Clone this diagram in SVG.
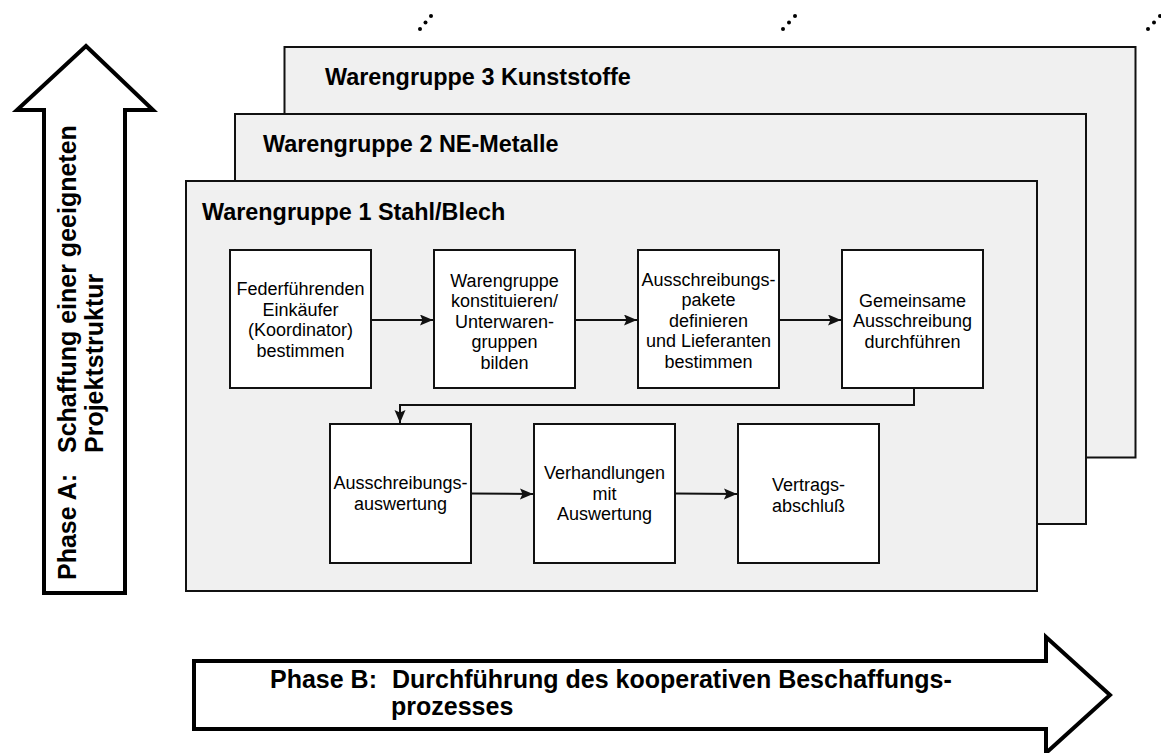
<svg xmlns="http://www.w3.org/2000/svg" width="1161" height="753" viewBox="0 0 1161 753">
  <style>
    .frame { fill: #f0f0f0; stroke: #111; stroke-width: 2; }
    .box { fill: #ffffff; stroke: #111; stroke-width: 2; }
    .phase { fill: #ffffff; stroke: #000; stroke-width: 4; stroke-linejoin: miter; stroke-miterlimit: 10; }
    .title { font-family: "Liberation Sans", Arial, sans-serif; font-weight: bold; font-size: 23.4px; fill: #000; }
    .phase-text { font-family: "Liberation Sans", Arial, sans-serif; font-weight: bold; font-size: 25px; fill: #000; }
    .label { font-family: "Liberation Sans", Arial, sans-serif; font-size: 18px; fill: #000; text-anchor: middle; }
    .conn { fill: none; stroke: #111; stroke-width: 2; }
    .dot { fill: #000; }
  </style>
  <defs>
    <marker id="arrow" markerUnits="userSpaceOnUse" markerWidth="14" markerHeight="12" refX="13" refY="5.5" orient="auto">
      <path d="M0,0 L13,5.5 L0,11 L2.5,5.5 z" fill="#111"/>
    </marker>
  </defs>

  <!-- continuation marks above the stacked frames -->
  <g id="continuation-dots">
    <circle class="dot" cx="420" cy="29" r="2"/>
    <circle class="dot" cx="425.5" cy="22.5" r="2"/>
    <circle class="dot" cx="431" cy="16" r="2"/>
    <circle class="dot" cx="783" cy="29" r="2"/>
    <circle class="dot" cx="789" cy="22.5" r="2"/>
    <circle class="dot" cx="795" cy="16" r="2"/>
    <circle class="dot" cx="1148" cy="29" r="2"/>
    <circle class="dot" cx="1154" cy="22.5" r="2"/>
    <circle class="dot" cx="1160" cy="16" r="2"/>
  </g>

  <!-- Phase A: vertical arrow -->
  <g id="phase-a">
    <polygon class="phase" points="86,46 153,110 125,110 125,593 44,593 44,110 17,110"/>
    <text class="phase-text" transform="translate(76,580) rotate(-90)">Phase A:</text>
    <text class="phase-text" transform="translate(76,453) rotate(-90)">Schaffung einer geeigneten</text>
    <text class="phase-text" transform="translate(103,453) rotate(-90)">Projektstruktur</text>
  </g>

  <!-- stacked commodity group frames -->
  <g id="group-3">
    <rect class="frame" x="284.5" y="47" width="851" height="410.5"/>
    <text class="title" x="325" y="85">Warengruppe 3 Kunststoffe</text>
  </g>
  <g id="group-2">
    <rect class="frame" x="235" y="114" width="851" height="410"/>
    <text class="title" x="263" y="152">Warengruppe 2 NE-Metalle</text>
  </g>
  <g id="group-1">
    <rect class="frame" x="186" y="181" width="851" height="410"/>
    <text class="title" x="202" y="220">Warengruppe 1 Stahl/Blech</text>
  </g>

  <!-- process steps -->
  <g id="step-koordinator">
    <rect class="box" x="230" y="250" width="141" height="138"/>
    <text class="label" x="300.5" y="295">Federführenden</text>
    <text class="label" x="300.5" y="315.5">Einkäufer</text>
    <text class="label" x="300.5" y="336">(Koordinator)</text>
    <text class="label" x="300.5" y="356.5">bestimmen</text>
  </g>
  <g id="step-warengruppe">
    <rect class="box" x="434" y="250" width="141" height="138"/>
    <text class="label" x="504.5" y="286.5">Warengruppe</text>
    <text class="label" x="504.5" y="307">konstituieren/</text>
    <text class="label" x="504.5" y="327.5">Unterwaren-</text>
    <text class="label" x="504.5" y="348">gruppen</text>
    <text class="label" x="504.5" y="368.5">bilden</text>
  </g>
  <g id="step-pakete">
    <rect class="box" x="638" y="250" width="141" height="138"/>
    <text class="label" x="708.5" y="285.5">Ausschreibungs-</text>
    <text class="label" x="708.5" y="306">pakete</text>
    <text class="label" x="708.5" y="326.5">definieren</text>
    <text class="label" x="708.5" y="347">und Lieferanten</text>
    <text class="label" x="708.5" y="367.5">bestimmen</text>
  </g>
  <g id="step-ausschreibung">
    <rect class="box" x="842" y="250" width="141" height="138"/>
    <text class="label" x="912.5" y="306.5">Gemeinsame</text>
    <text class="label" x="912.5" y="327">Ausschreibung</text>
    <text class="label" x="912.5" y="347.5">durchführen</text>
  </g>
  <g id="step-auswertung">
    <rect class="box" x="330" y="424" width="141" height="139"/>
    <text class="label" x="400.5" y="489">Ausschreibungs-</text>
    <text class="label" x="400.5" y="509.5">auswertung</text>
  </g>
  <g id="step-verhandlungen">
    <rect class="box" x="534" y="424" width="141" height="139"/>
    <text class="label" x="604.5" y="479">Verhandlungen</text>
    <text class="label" x="604.5" y="499.5">mit</text>
    <text class="label" x="604.5" y="520">Auswertung</text>
  </g>
  <g id="step-vertrag">
    <rect class="box" x="738" y="424" width="141" height="139"/>
    <text class="label" x="808.5" y="491">Vertrags-</text>
    <text class="label" x="808.5" y="511.5">abschluß</text>
  </g>

  <!-- connectors between steps -->
  <g id="connectors">
    <line class="conn" x1="371" y1="320" x2="433" y2="320" marker-end="url(#arrow)"/>
    <line class="conn" x1="575" y1="320" x2="637" y2="320" marker-end="url(#arrow)"/>
    <line class="conn" x1="779" y1="320" x2="841" y2="320" marker-end="url(#arrow)"/>
    <path class="conn" d="M914,388 V405 H400 V423" marker-end="url(#arrow)"/>
    <line class="conn" x1="471" y1="493.5" x2="533" y2="494" marker-end="url(#arrow)"/>
    <line class="conn" x1="675" y1="493.5" x2="737" y2="494" marker-end="url(#arrow)"/>
  </g>

  <!-- Phase B: horizontal arrow -->
  <g id="phase-b">
    <polygon class="phase" points="194,661 1046,661 1046,637 1110,695 1046,753 1046,729 194,729"/>
    <text class="phase-text" x="270" y="688">Phase B:</text>
    <text class="phase-text" x="392" y="688">Durchführung des kooperativen Beschaffungs-</text>
    <text class="phase-text" x="391" y="715">prozesses</text>
  </g>
</svg>
